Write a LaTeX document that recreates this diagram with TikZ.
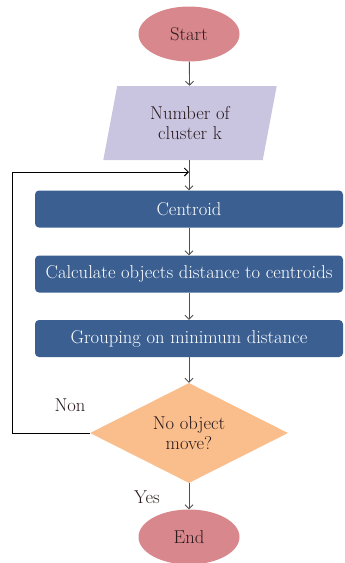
\documentclass[tikz,border=0pt]{standalone}
\usepackage{fontspec}
\definecolor{TermPink}{HTML}{D8888D}
\definecolor{InputLilac}{HTML}{C9C5E1}
\definecolor{StepBlue}{HTML}{3B5F91}
\definecolor{TestOrange}{HTML}{F9BE8C}
\definecolor{LineGray}{HTML}{505050}
\definecolor{InkDark}{HTML}{2A1A1C}
\usepackage{tikz}
\usetikzlibrary{shapes.geometric,arrows.meta,positioning}
\tikzset{
    % Base node style
    basenode/.style={
        draw=none,
        align=center,
        inner sep=2pt,
        text=InkDark,
        font=\fontsize{18.6}{20.5}\selectfont
    },
    % Start and end
    termnode/.style={
        basenode,
        ellipse,
        fill=TermPink,
        minimum width=101pt,
        minimum height=55pt
    },
    % Input
    inputnode/.style={
        basenode,
        trapezium,
        trapezium left angle=78,
        trapezium right angle=102,
        trapezium stretches=true,
        fill=InputLilac,
        minimum width=174pt,
        minimum height=74pt
    },
    % Process step
    stepnode/.style={
        basenode,
        rectangle,
        rounded corners=4pt,
        fill=StepBlue,
        text=white,
        minimum width=308pt,
        minimum height=37pt
    },
    % Decision
    testnode/.style={
        basenode,
        diamond,
        aspect=2,
        inner sep=0pt,
        fill=TestOrange,
        minimum width=198pt,
        minimum height=100pt
    },
    % Edge label
    edgelabel/.style={
        text=InkDark,
        font=\fontsize{18.6}{20.5}\selectfont
    },
    % Arrow styles (straight lines only)
    flowarrow/.style={
        -{Straight Barb[length=4pt,width=8pt]},
        line width=0.9pt,
        draw=LineGray
    },
    looparrow/.style={
        -{Straight Barb[length=4pt,width=8pt]},
        line width=0.9pt,
        draw=black
    }
}
\begin{document}
\begin{tikzpicture}[x=1pt,y=-1pt]
    \useasboundingbox (0,0) rectangle (345,563);
    \node[termnode] (start) at (189,34) {Start};
    \node[inputnode] (num) at (190,123) {Number of\\cluster k};
    \node[stepnode] (cent) at (189,209) {Centroid};
    \node[stepnode] (dist) at (189,274) {Calculate objects distance to centroids};
    \node[stepnode] (group) at (189,338.5) {Grouping on minimum distance};
    \node[testnode] (move) at (189,433) {No object\\move?};
    \node[termnode] (stop) at (189,537) {End};
    \coordinate (join) at (189,172);

    \draw[flowarrow] (start) -- (num);
    \draw[flowarrow] (num.south -| cent.north) -- (cent);
    \draw[flowarrow] (cent) -- (dist);
    \draw[flowarrow] (dist) -- (group);
    \draw[flowarrow] (group) -- (move);
    \draw[flowarrow] (move) -- (stop);
    \draw[looparrow] (move.west) -- (12,433) -- (12,172) -- (join);

    \node[edgelabel] (non) at (70,405) {Non};
    \node[edgelabel] (yes) at (147,497) {Yes};
\end{tikzpicture}
\end{document}
